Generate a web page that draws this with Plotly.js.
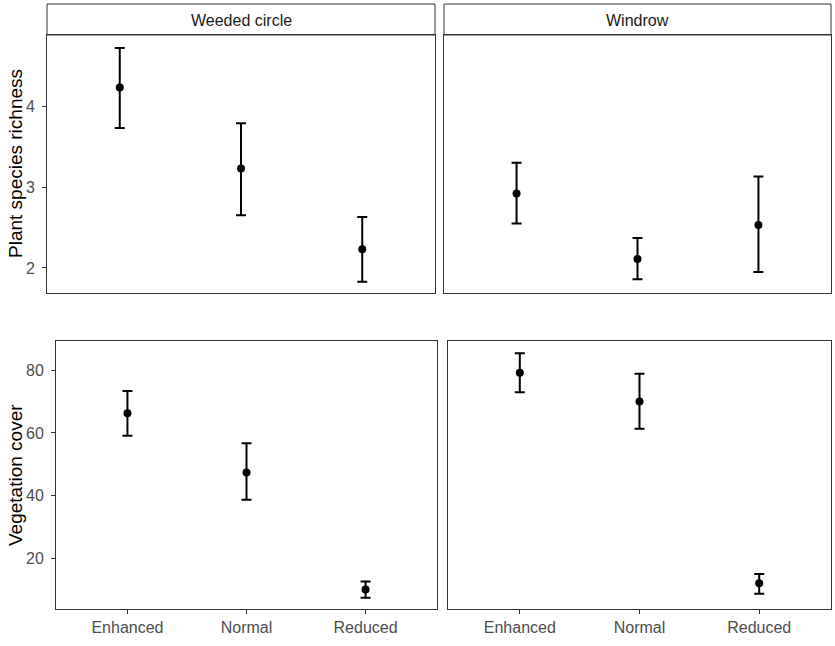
<!DOCTYPE html>
<html>
<head>
<meta charset="utf-8">
<script src="https://cdn.plot.ly/plotly-3.0.1.min.js"></script>
<style>html,body{margin:0;padding:0;background:#fff;}#chart{width:835px;height:646px;}</style>
</head>
<body>
<div id="chart"></div>
<script>
const categories = ['Enhanced', 'Normal', 'Reduced'];
const facets = ['Weeded circle', 'Windrow'];
const richnessTicks = [2, 3, 4];
const coverTicks = [20, 40, 60, 80];

const richWeededMean = [4.23, 3.23, 2.23];
const richWeededLow = [3.73, 2.65, 1.83];
const richWeededHigh = [4.72, 3.79, 2.63];

const richWindrowMean = [2.92, 2.11, 2.53];
const richWindrowLow = [2.55, 1.86, 1.95];
const richWindrowHigh = [3.30, 2.37, 3.13];

const coverWeededMean = [66.3, 47.4, 10.0];
const coverWeededLow = [59.1, 38.7, 7.4];
const coverWeededHigh = [73.4, 56.7, 12.6];

const coverWindrowMean = [79.2, 70.0, 12.0];
const coverWindrowLow = [73.0, 61.3, 8.7];
const coverWindrowHigh = [85.4, 78.9, 15.0];

const W = 835, H = 646;
const px = v => v / W;
const py = v => 1 - v / H;

function trace(mean, low, high, xa, ya) {
  return {
    type: 'scatter', mode: 'markers',
    x: categories, y: mean, xaxis: xa, yaxis: ya,
    marker: {color: '#000', size: 8},
    error_y: {
      type: 'data', symmetric: false,
      array: high.map((h, i) => h - mean[i]),
      arrayminus: mean.map((m, i) => m - low[i]),
      color: '#000', thickness: 2, width: 5
    },
    hoverinfo: 'x+y', showlegend: false
  };
}

const data = [
  trace(richWeededMean, richWeededLow, richWeededHigh, 'x', 'y'),
  trace(richWindrowMean, richWindrowLow, richWindrowHigh, 'x2', 'y2'),
  trace(coverWeededMean, coverWeededLow, coverWeededHigh, 'x3', 'y3'),
  trace(coverWindrowMean, coverWindrowLow, coverWindrowHigh, 'x4', 'y4')
];

const tickFont = {family: 'Liberation Sans, Arial, sans-serif', size: 16, color: '#4D4D4D'};
const lineBase = {showline: true, mirror: true, linecolor: '#333333', linewidth: 1,
  showgrid: false, zeroline: false, tickcolor: '#333333', ticklen: 4, tickwidth: 1,
  tickfont: tickFont, fixedrange: true};

const xBase = Object.assign({}, lineBase, {type: 'category', range: [-0.6, 2.6]});

const topY = [py(293), py(35)];
const botY = [py(609), py(341)];

const layout = {
  width: W, height: H,
  margin: {l: 0, r: 0, t: 0, b: 0},
  paper_bgcolor: '#fff', plot_bgcolor: '#fff',
  font: {family: 'Liberation Sans, Arial, sans-serif'},
  xaxis: Object.assign({}, xBase, {domain: [px(47), px(435)], anchor: 'y', showticklabels: false, ticks: ''}),
  xaxis2: Object.assign({}, xBase, {domain: [px(444), px(831)], anchor: 'y2', showticklabels: false, ticks: ''}),
  xaxis3: Object.assign({}, xBase, {domain: [px(56), px(437)], anchor: 'y3', ticks: 'outside', ticklabelstandoff: 0}),
  xaxis4: Object.assign({}, xBase, {domain: [px(448), px(831)], anchor: 'y4', ticks: 'outside', ticklabelstandoff: 0}),
  yaxis: Object.assign({}, lineBase, {domain: topY, anchor: 'x', range: [1.69, 4.88], tickmode: 'array', tickvals: richnessTicks, ticks: 'outside', ticklabelstandoff: 4}),
  yaxis2: Object.assign({}, lineBase, {domain: topY, anchor: 'x2', range: [1.69, 4.88], showticklabels: false, ticks: ''}),
  yaxis3: Object.assign({}, lineBase, {domain: botY, anchor: 'x3', range: [3.8, 89.35], tickmode: 'array', tickvals: coverTicks, ticks: 'outside', ticklabelstandoff: 4}),
  yaxis4: Object.assign({}, lineBase, {domain: botY, anchor: 'x4', range: [3.8, 89.35], showticklabels: false, ticks: ''}),
  shapes: [
    {type: 'rect', xref: 'paper', yref: 'paper', x0: px(47), x1: px(435), y0: py(35), y1: py(4), line: {color: '#333333', width: 1}, fillcolor: '#ffffff', layer: 'below'},
    {type: 'rect', xref: 'paper', yref: 'paper', x0: px(444), x1: px(831), y0: py(35), y1: py(4), line: {color: '#333333', width: 1}, fillcolor: '#ffffff', layer: 'below'}
  ],
  annotations: [
    {xref: 'paper', yref: 'paper', x: px((47 + 435) / 2), y: py(20), text: facets[0], showarrow: false, xanchor: 'center', yanchor: 'middle', font: {size: 16, color: '#1A1A1A'}},
    {xref: 'paper', yref: 'paper', x: px((444 + 831) / 2), y: py(20), text: facets[1], showarrow: false, xanchor: 'center', yanchor: 'middle', font: {size: 16, color: '#1A1A1A'}},
    {xref: 'paper', yref: 'paper', x: px(15), y: py(164), text: 'Plant species richness', textangle: -90, showarrow: false, xanchor: 'center', yanchor: 'middle', font: {size: 19, color: '#000'}},
    {xref: 'paper', yref: 'paper', x: px(15), y: py(475), text: 'Vegetation cover', textangle: -90, showarrow: false, xanchor: 'center', yanchor: 'middle', font: {size: 19, color: '#000'}}
  ]
};

Plotly.newPlot('chart', data, layout, {displayModeBar: false, staticPlot: true});
</script>
</body>
</html>
